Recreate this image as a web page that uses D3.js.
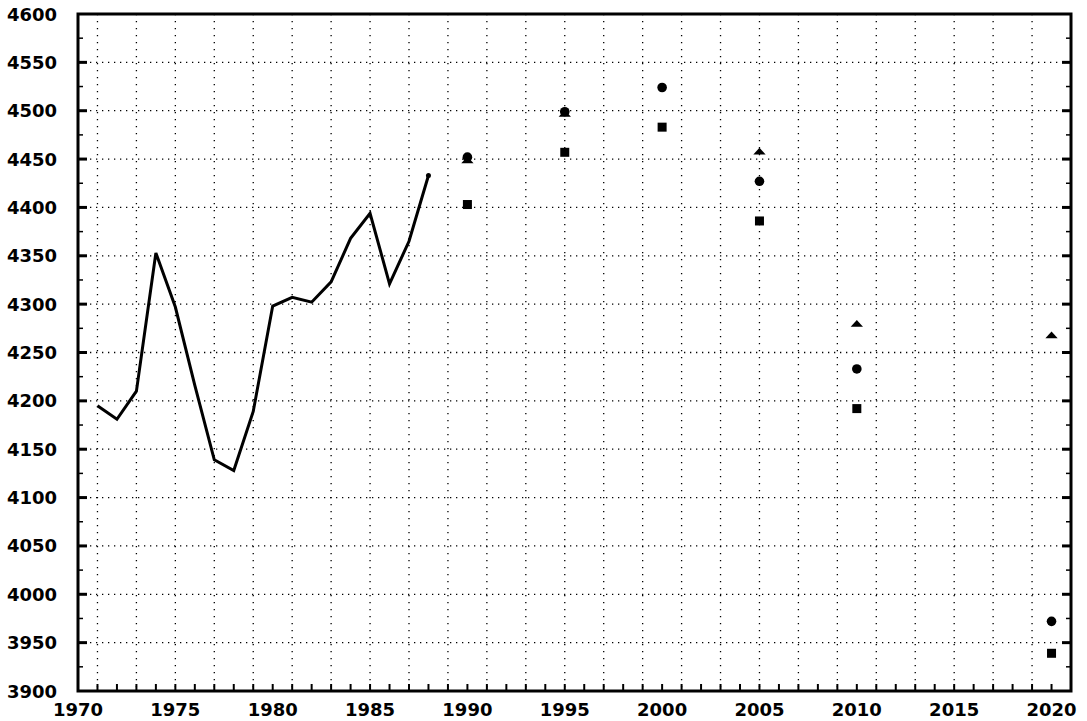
<!DOCTYPE html>
<html><head><meta charset="utf-8">
<script src="https://cdn.jsdelivr.net/npm/d3@7"></script>
<style>
body{margin:0;background:#fff;}
svg text{font-family:"DejaVu Sans",sans-serif;font-weight:bold;font-size:18px;fill:#000;}
</style></head><body>
<svg id="c" width="1087" height="721"></svg>
<script>
// Historical series
const histYears = [1971,1972,1973,1974,1975,1976,1977,1978,1979,1980,1981,1982,1983,1984,1985,1986,1987,1988];
const histValues = [4195,4181,4210,4353,4297,4216,4139,4128,4189,4298,4307,4302,4323,4368,4394,4321,4365,4433];
// Projection scenarios
const projYears = [1990,1995,2000,2005,2010,2020];
const highValues = [4448,4496,null,4457,4279,4267];   // triangles
const midValues = [4452,4499,4524,4427,4233,3972];    // circles
const lowValues = [4403,4457,4483,4386,4192,3939];    // squares
const xTickLabels = [1970,1975,1980,1985,1990,1995,2000,2005,2010,2015,2020];
const yTickLabels = [3900,3950,4000,4050,4100,4150,4200,4250,4300,4350,4400,4450,4500,4550,4600];

const svg = d3.select("#c");
const L = 78, R = 1071, T = 14, B = 691;
const x = d3.scaleLinear().domain([1970,2021]).range([L,R]);
const y = d3.scaleLinear().domain([3900,4600]).range([B,T]);

// grid
const g = svg.append("g");
g.selectAll("line.h").data(yTickLabels.filter(v=>v>3900&&v<4600)).join("line")
  .attr("x1",L).attr("x2",R).attr("y1",d=>y(d)).attr("y2",d=>y(d))
  .attr("stroke","#000").attr("stroke-width",1.3).attr("stroke-dasharray","1.3,4.7");
g.selectAll("line.v").data(d3.range(1971,2021,2)).join("line")
  .attr("y1",T).attr("y2",B).attr("x1",d=>x(d)).attr("x2",d=>x(d))
  .attr("stroke","#000").attr("stroke-width",1.3).attr("stroke-dasharray","1.3,5.7");

// axes
const yMinor = d3.range(3925,4600,50);
function yTicks(side){
  const dir = side==="left"?1:-1, x0 = side==="left"?L:R;
  svg.append("g").selectAll("line").data(yTickLabels.filter(v=>v>3900&&v<4600)).join("line")
    .attr("x1",x0).attr("x2",x0+dir*9).attr("y1",d=>y(d)).attr("y2",d=>y(d))
    .attr("stroke","#000").attr("stroke-width",3);
  svg.append("g").selectAll("line").data(yMinor).join("line")
    .attr("x1",x0).attr("x2",x0+dir*5).attr("y1",d=>y(d)).attr("y2",d=>y(d))
    .attr("stroke","#000").attr("stroke-width",1.5);
}
yTicks("left"); yTicks("right");
svg.append("g").selectAll("line").data(d3.range(1971,2021)).join("line")
  .attr("x1",d=>x(d)).attr("x2",d=>x(d)).attr("y1",B).attr("y2",B-7)
  .attr("stroke","#000").attr("stroke-width",2);

svg.append("rect").attr("x",L).attr("y",T).attr("width",R-L).attr("height",B-T)
  .attr("fill","none").attr("stroke","#000").attr("stroke-width",3);

svg.append("g").selectAll("text").data(yTickLabels).join("text")
  .attr("x",57).attr("y",d=>y(d)).attr("text-anchor","end").attr("dominant-baseline","central")
  .text(d=>d);
svg.append("g").selectAll("text").data(xTickLabels).join("text")
  .attr("x",d=>x(d)).attr("y",716).attr("text-anchor","middle")
  .text(d=>d);

// historical line
const line = d3.line().x((d,i)=>x(histYears[i])).y(d=>y(d));
svg.append("path").datum(histValues).attr("d",line).attr("fill","none")
  .attr("stroke","#000").attr("stroke-width",3).attr("stroke-linejoin","miter");
svg.append("circle").attr("cx",x(histYears[histYears.length-1])).attr("cy",y(histValues[histValues.length-1]))
  .attr("r",2.5).attr("fill","#000");

// markers
const tri = d3.symbol().type(d3.symbolTriangle).size(36);
const triData = projYears.map((yr,i)=>({yr, v: highValues[i]})).filter(d=>d.v!==null);
svg.append("g").selectAll("path").data(triData).join("path")
  .attr("d",tri).attr("transform",d=>`translate(${x(d.yr)},${y(d.v)}) scale(1.35,0.85)`).attr("fill","#000");
svg.append("g").selectAll("circle").data(midValues).join("circle")
  .attr("cx",(d,i)=>x(projYears[i])).attr("cy",d=>y(d)).attr("r",4.8).attr("fill","#000");
svg.append("g").selectAll("rect").data(lowValues).join("rect")
  .attr("x",(d,i)=>x(projYears[i])-4.5).attr("y",d=>y(d)-4.5).attr("width",9).attr("height",9).attr("fill","#000");
</script>
</body></html>
